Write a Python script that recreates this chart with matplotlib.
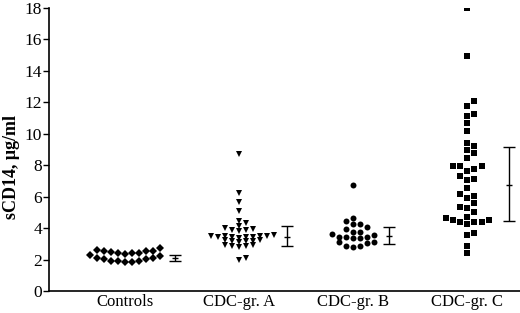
import numpy as np
import matplotlib
matplotlib.use("Agg")
import matplotlib.pyplot as plt

plt.rcParams['font.family'] = ['Liberation Serif', 'DejaVu Serif']

categories = ["Controls", "CDC-gr. A", "CDC-gr. B", "CDC-gr. C"]

controls = [2.75, 2.56, 2.50, 2.43, 2.39, 2.37, 2.43, 2.52, 2.56, 2.60,
            2.27, 2.08, 2.01, 1.93, 1.88, 1.82, 1.82, 1.90, 2.03, 2.08, 2.22]
group_a = [8.70, 6.25, 5.63, 5.06, 4.44, 4.30,
           4.12, 4.02, 3.95, 3.87, 3.85, 3.80,
           3.42, 3.44, 3.45, 3.46, 3.48, 3.50, 3.50, 3.52, 3.40, 3.55,
           3.12, 3.15, 3.17, 3.20, 3.22, 3.25,
           2.80, 2.84, 2.86, 2.90, 2.95,
           2.07, 2.00]
group_b = [6.73, 4.66, 4.44, 4.27, 4.23, 4.08, 3.94, 3.77, 3.77, 3.60, 3.56,
           3.45, 3.45, 3.42, 3.39, 3.39, 3.13, 3.09, 3.07, 2.88, 2.86, 2.81]
group_c = [17.95, 14.94, 12.08, 11.75, 11.22, 11.13, 10.65, 10.16, 9.42, 9.21,
           8.95, 8.74, 8.46, 7.96, 7.96, 7.96, 7.75, 7.62, 7.30, 7.11, 7.05,
           6.52, 6.14, 6.05, 5.92, 5.57, 5.35, 5.25, 5.00, 4.72, 4.61, 4.51,
           4.51, 4.40, 4.36, 4.36, 4.23, 3.70, 3.56, 2.88, 2.39]

groups = [controls, group_a, group_b, group_c]

# error bars (center, low, high)
err_center = [2.12, 3.43, 3.49, 6.75]
err_low = [1.92, 2.86, 2.96, 4.46]
err_high = [2.30, 4.13, 4.08, 9.12]

# styling / layout
markers = ['D', 'v', 'o', 's']
msizes = [3.8, 4.6, 4.3, 4.1]
min_gap = [0.45, 0.24, 0.35, 0.45]   # vertical clearance for swarm (data units)
slot_w = 0.0614                       # horizontal step for swarm (data units)
err_offset = [0.44, 0.42, 0.31, 0.36]


def swarm_slots(values, gap):
    vals = np.asarray(values, float)
    order = np.argsort(vals, kind='stable')
    seq = [0]
    for k in range(1, 30):
        seq += [k, -k]
    placed = {}
    slots = np.zeros(len(vals), int)
    for i in order:
        v = vals[i]
        for s in seq:
            if all(abs(v - y) >= gap for y in placed.get(s, [])):
                placed.setdefault(s, []).append(v)
                slots[i] = s
                break
    return slots


fig = plt.figure(figsize=(5.2, 3.13), dpi=100)
ax = fig.add_axes([0.094, 0.070, 0.906, 0.906])

for i, vals in enumerate(groups):
    slots = swarm_slots(vals, min_gap[i])
    xs = i + slots * slot_w
    ax.plot(xs, vals, linestyle='none', marker=markers[i], ms=msizes[i],
            color='black', markeredgewidth=0)
    xe = i + err_offset[i]
    ax.errorbar([xe], [err_center[i]],
                yerr=[[err_center[i] - err_low[i]], [err_high[i] - err_center[i]]],
                fmt='none', ecolor='black', elinewidth=1.0, capsize=4.5, capthick=1.0)
    ax.plot([xe], [err_center[i]], marker='_', ms=5, mew=1.0, color='black')

ax.set_xlim(-0.667, 3.46)
ax.set_ylim(0, 18)
ax.set_yticks(np.arange(0, 19, 2))
ax.set_xticks(range(len(categories)))
ax.set_xticklabels(categories)
ax.tick_params(axis='x', length=0, labelsize=12, pad=2)
ax.tick_params(axis='y', length=4, width=1.0, labelsize=12.5, pad=1)
for side in ['top', 'right']:
    ax.spines[side].set_visible(False)
for side in ['left', 'bottom']:
    ax.spines[side].set_linewidth(1.2)

fig.text(12 / 520, 1 - 167 / 313, "sCD14, \u03bcg/ml", rotation=90,
         ha='center', va='center', fontsize=13, fontweight='bold')

fig.savefig("out.png", dpi=100)
